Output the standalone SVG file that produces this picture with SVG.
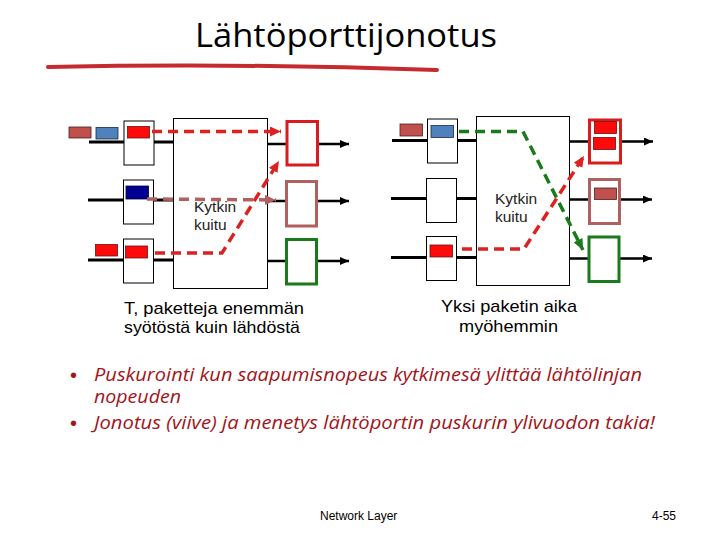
<svg xmlns="http://www.w3.org/2000/svg" width="720" height="540" viewBox="0 0 720 540">
<style>
.bg{fill:#fff}
.ln{stroke:#000;stroke-width:3;fill:none}
.oln{stroke:#000;stroke-width:2.5;fill:none}
.box{fill:#fff;stroke:#000;stroke-width:1}
.fab{fill:#fff;stroke:#000;stroke-width:1}
.ored{fill:#fff;stroke:#d91c1c;stroke-width:3}
.obrn{fill:#fff;stroke:#b0605e;stroke-width:3}
.ogrn{fill:#fff;stroke:#1b7a1b;stroke-width:3}
.pred{fill:#ff0a0a;stroke:#6a1010;stroke-width:0.8}
.pbrn{fill:#c0504d;stroke:#4a2020;stroke-width:0.8}
.pblu{fill:#4f81bd;stroke:#1d2a40;stroke-width:0.8}
.pdbl{fill:#000090;stroke:#000040;stroke-width:0.8}
.dr{stroke:#dd2020;stroke-width:3.5;stroke-dasharray:10 6;fill:none}
.db{stroke:#b06060;stroke-width:3.5;stroke-dasharray:10 6;fill:none}
.dg{stroke:#1b7a1b;stroke-width:3.5;stroke-dasharray:10 6;fill:none}
.fl{font-family:"Liberation Sans",Arial,sans-serif;font-size:15.5px;fill:#222}
.cap{font-family:"Liberation Sans",Arial,sans-serif;font-size:17px;fill:#000}
.bul{font-family:"Open Sans","Liberation Sans",sans-serif;font-size:18px;font-style:italic;fill:#a3151b}
.dot{font-family:"Liberation Sans",Arial,sans-serif;font-size:20px;fill:#a3151b}
.ft{font-family:"Liberation Sans",Arial,sans-serif;font-size:12px;fill:#000}
</style>
<defs>
<marker id="ak" markerUnits="userSpaceOnUse" markerWidth="10" markerHeight="8" refX="9" refY="4" orient="auto"><path d="M0,0 L9,4 L0,8 Z" fill="#000"/></marker>
<marker id="ar" markerUnits="userSpaceOnUse" markerWidth="12" markerHeight="10" refX="11" refY="5" orient="auto"><path d="M0,0 L11,5 L0,10 Z" fill="#dd2020"/></marker>
<marker id="ab" markerUnits="userSpaceOnUse" markerWidth="12" markerHeight="10" refX="11" refY="5" orient="auto"><path d="M0,0 L11,5 L0,10 Z" fill="#b06060"/></marker>
<marker id="ag" markerUnits="userSpaceOnUse" markerWidth="12" markerHeight="10" refX="11" refY="5" orient="auto"><path d="M0,0 L11,5 L0,10 Z" fill="#1b7a1b"/></marker>
</defs>
<rect class="bg" width="720" height="540"/>

<g id="title">
<text x="195" y="47" font-family="'Open Sans','Liberation Sans',sans-serif" font-size="32" fill="#000" textLength="302" lengthAdjust="spacingAndGlyphs">Lähtöporttijonotus</text>
<path d="M48,67 Q240,63 437,70" stroke="#c42a2e" stroke-width="4" fill="none" stroke-linecap="round"/>
</g>

<!-- Left diagram -->
<g id="left-lines">
<path class="ln" d="M89,142 H173 M88,200 H173 M88,260 H173"/>
<path class="oln" d="M268,144 H349" marker-end="url(#ak)"/>
<path class="oln" d="M268,201 H349" marker-end="url(#ak)"/>
<path class="oln" d="M268,261 H349" marker-end="url(#ak)"/>
</g>
<g id="left-fabric">
<rect class="fab" x="173.5" y="118.5" width="94" height="170"/>
<text class="fl" x="194" y="212">Kytkin</text>
<text class="fl" x="194" y="230">kuitu</text>
</g>
<g id="left-in1">
<rect class="pbrn" x="69" y="127" width="22" height="11"/>
<rect class="pblu" x="96" y="127.5" width="22" height="11.5"/>
<rect class="box" x="124" y="121" width="30" height="44"/>
<rect class="pred" x="127.5" y="126.5" width="22" height="11.5"/>
</g>
<g id="left-in2">
<rect class="box" x="123.5" y="180" width="30" height="44"/>
<rect class="pdbl" x="126" y="186" width="22.5" height="13"/>
</g>
<g id="left-in3">
<rect class="pred" x="95.5" y="244.5" width="22" height="11.5"/>
<rect class="box" x="123.5" y="239" width="30" height="44"/>
<rect class="pred" x="125.5" y="246" width="22" height="12"/>
</g>
<g id="left-out1"><rect class="ored" x="287" y="121.5" width="30.5" height="43.5"/></g>
<g id="left-out2"><rect class="obrn" x="286.5" y="181.5" width="30" height="44.5"/></g>
<g id="left-out3"><rect class="ogrn" x="286.5" y="239.5" width="30" height="44.5"/></g>
<g id="left-connectors">
<path class="dr" d="M152,131.5 H281" marker-end="url(#ar)"/>
<path class="db" d="M147,199 L276,200" marker-end="url(#ab)"/>
<path class="dr" d="M155,253 H222 L279,161" marker-end="url(#ar)"/>
</g>
<g id="left-caption">
<text class="cap" x="124" y="314" textLength="180" lengthAdjust="spacingAndGlyphs">T, paketteja enemmän</text>
<text class="cap" x="124" y="333" textLength="176" lengthAdjust="spacingAndGlyphs">syötöstä kuin lähdöstä</text>
</g>

<!-- Right diagram -->
<g id="right-lines">
<path class="ln" d="M392,140.5 H476 M391,198.5 H476 M391,257.5 H476"/>
<path class="oln" d="M569,141.5 H653" marker-end="url(#ak)"/>
<path class="oln" d="M569,199.5 H652" marker-end="url(#ak)"/>
<path class="oln" d="M569,258.5 H652" marker-end="url(#ak)"/>
</g>
<g id="right-fabric">
<rect class="fab" x="476.5" y="116.5" width="93" height="169"/>
<text class="fl" x="495" y="204">Kytkin</text>
<text class="fl" x="495" y="222">kuitu</text>
</g>
<g id="right-in1">
<rect class="pbrn" x="400" y="124" width="22.5" height="12"/>
<rect class="box" x="427.5" y="119" width="30" height="44"/>
<rect class="pblu" x="431" y="125.5" width="22.5" height="12"/>
</g>
<g id="right-in2"><rect class="box" x="426.5" y="178.5" width="30" height="44"/></g>
<g id="right-in3">
<rect class="box" x="426.5" y="236.5" width="30" height="44"/>
<rect class="pred" x="430" y="245" width="22.5" height="12"/>
</g>
<g id="right-out1">
<rect class="ored" x="589.5" y="120" width="31" height="43"/>
<rect class="pred" x="594.5" y="121.5" width="22" height="12"/>
<rect class="pred" x="593.5" y="137.5" width="22" height="12"/>
</g>
<g id="right-out2">
<rect class="obrn" x="589.5" y="179.5" width="30" height="44"/>
<rect class="pbrn" x="594.5" y="188" width="22" height="11.5"/>
</g>
<g id="right-out3"><rect class="ogrn" x="589" y="237" width="30" height="44.5"/></g>
<g id="right-connectors">
<path class="dr" d="M462,249 H524 L584,156" marker-end="url(#ar)"/>
<path class="dg" d="M459,131.5 H523 L583,250" marker-end="url(#ag)"/>
</g>
<g id="right-caption">
<text class="cap" x="509" y="312" text-anchor="middle" textLength="136" lengthAdjust="spacingAndGlyphs">Yksi paketin aika</text>
<text class="cap" x="508.5" y="332" text-anchor="middle" textLength="99" lengthAdjust="spacingAndGlyphs">myöhemmin</text>
</g>

<g id="bullets">
<text class="dot" x="70" y="382">•</text>
<text class="bul" x="94" y="381" textLength="548" lengthAdjust="spacingAndGlyphs">Puskurointi kun saapumisnopeus kytkimesä ylittää lähtölinjan</text>
<text class="bul" x="94" y="403" textLength="87" lengthAdjust="spacingAndGlyphs">nopeuden</text>
<text class="dot" x="70" y="430">•</text>
<text class="bul" x="94" y="429" textLength="561" lengthAdjust="spacingAndGlyphs">Jonotus (viive) ja menetys lähtöportin puskurin ylivuodon takia!</text>
</g>

<g id="footer">
<text class="ft" x="320" y="520">Network Layer</text>
<text class="ft" x="652" y="520">4-55</text>
</g>
</svg>
